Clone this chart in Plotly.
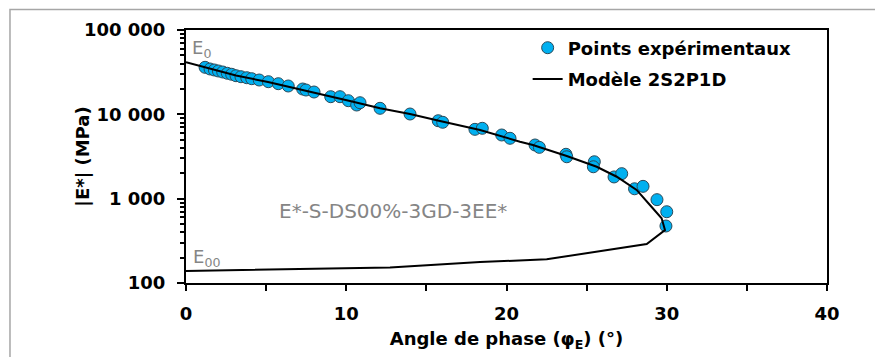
import plotly.graph_objects as go

# Experimental points: phase angle (deg) and |E*| (MPa)
phase_exp = [1.19, 1.50, 1.77, 2.02, 2.29, 2.58, 2.85, 3.12, 3.43, 3.79, 4.10, 4.57,
             5.14, 5.76, 6.38, 7.28, 7.49, 7.99, 9.03, 9.61, 10.13, 10.65, 10.86,
             12.11, 13.98, 15.74, 16.02, 18.03, 18.49, 19.70, 20.22, 21.78, 22.05,
             23.71, 23.76, 25.48, 25.42, 26.71, 27.19, 27.99, 28.52, 29.39, 30.00, 29.95]
modulus_exp = [36100, 34500, 33560, 32660, 31770, 30680, 29850, 28710, 27930, 27180,
               26460, 25530, 24380, 23080, 21680, 19970, 19430, 18400, 16190, 16190,
               14510, 12900, 13730, 11790, 10090, 8400, 8050, 6640, 6830, 5690, 5200,
               4330, 4060, 3360, 3140, 2740, 2390, 1810, 1980, 1310, 1400, 973, 700, 474]

# 2S2P1D model curve
phase_model = [0, 1.19, 3.12, 5.12, 7.49, 10.23, 12.11, 13.98, 15.85, 18.35, 20.84,
               21.65, 23.76, 25.63, 26.88, 28.12, 28.95, 29.68, 29.89,
               28.75, 22.51, 18.35, 12.73, 4.62, 0]
modulus_model = [41400, 35900, 28800, 24200, 19200, 14400, 11800, 10100, 8340, 6510,
                 4730, 4330, 3210, 2390, 1820, 1270, 841, 585, 425,
                 290, 191, 177, 153, 143, 139]

y_tickvals = [100, 1000, 10000, 100000]
y_ticktext = ["100", "1 000", "10 000", "100 000"]
x_tickvals = [0, 10, 20, 30, 40]
x_ticktext = ["0", "10", "20", "30", "40"]

FONT = "DejaVu Sans"
GRAY = "#858585"

fig = go.Figure()
fig.add_trace(go.Scatter(
    x=phase_exp, y=modulus_exp, mode="markers", name="Points expérimentaux",
    legendgroup="a",
    marker=dict(color="#00B0F0", size=12, line=dict(color="#2a4a5a", width=1)),
))
fig.add_trace(go.Scatter(
    x=phase_model, y=modulus_model, mode="lines", name="Modèle 2S2P1D",
    legendgroup="b",
    line=dict(color="black", width=2),
))

# page body has an 8px margin -> figure is offset by 8px
fig.update_layout(
    width=875, height=349,
    margin=dict(l=178, r=56, t=22, b=74),
    paper_bgcolor="white", plot_bgcolor="white",
    font=dict(family=FONT, size=18, color="black"),
    showlegend=True,
    legend=dict(x=0.533, y=1.002, xanchor="left", yanchor="top",
                bgcolor="rgba(0,0,0,0)", font=dict(family=FONT, size=18, weight="bold"),
                traceorder="grouped", tracegroupgap=5),
    xaxis=dict(range=[0, 40], tickvals=x_tickvals, ticktext=x_ticktext, automargin=False,
               ticks="outside", ticklen=6, tickwidth=2, tickcolor="black",
               showline=True, linewidth=2, linecolor="black", mirror=True,
               showgrid=False, zeroline=False, ticklabelstandoff=7,
               tickfont=dict(family=FONT, size=18, weight="bold"),
               minor=dict(ticks="outside", ticklen=6, tickwidth=2, tickcolor="black", dtick=5, showgrid=False),
               title=dict(text="Angle de phase (φ<sub>E</sub>) (°)", standoff=10,
                          font=dict(family=FONT, size=18, weight="bold"))),
    yaxis=dict(type="log", range=[2, 5], tickvals=y_tickvals, ticktext=y_ticktext, automargin=False,
               ticks="outside", ticklen=7, tickwidth=2, tickcolor="black",
               showline=True, linewidth=2, linecolor="black", mirror=True,
               showgrid=False, zeroline=False, ticklabelstandoff=8,
               tickfont=dict(family=FONT, size=18, weight="bold"),
               minor=dict(ticks="outside", ticklen=4, tickwidth=1.5, tickcolor="black", dtick="D1", showgrid=False)),
)

# y axis title
fig.add_annotation(xref="paper", yref="paper", x=-0.162, y=0.5, xanchor="center", yanchor="middle",
                   text="|E*| (MPa)", textangle=-90, showarrow=False,
                   font=dict(family=FONT, size=18, weight="bold", color="black"))
fig.add_annotation(xref="paper", yref="paper", x=0.006, y=0.923, xanchor="left", yanchor="middle",
                   text="E<sub>0</sub>", showarrow=False, font=dict(family=FONT, size=18, color=GRAY))
fig.add_annotation(xref="paper", yref="paper", x=0.008, y=0.098, xanchor="left", yanchor="middle",
                   text="E<sub>00</sub>", showarrow=False, font=dict(family=FONT, size=18, color=GRAY))
fig.add_annotation(xref="paper", yref="paper", x=0.3237, y=0.285, xanchor="center", yanchor="middle",
                   text="E*-S-DS00%-3GD-3EE*", showarrow=False, font=dict(family=FONT, size=20, color=GRAY))

# outer frame
fig.add_shape(type="rect", xref="paper", yref="paper", x0=-0.2746, x1=1.2, y0=-0.5, y1=1.081,
              line=dict(color="#a6a6a6", width=1.5), fillcolor="rgba(0,0,0,0)", layer="below")

fig.write_html("out.html")
